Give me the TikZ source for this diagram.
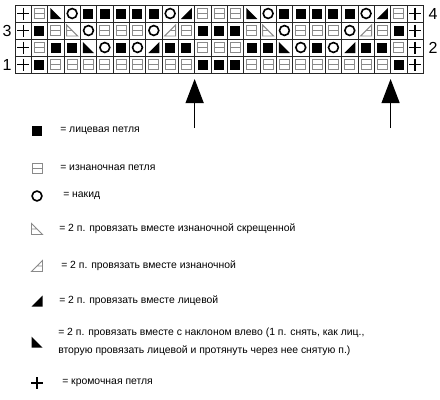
\documentclass[tikz,border=0pt]{standalone}
\usepackage{fontspec}
\setmainfont{Liberation Sans}
\usetikzlibrary{arrows.meta,calc}
\definecolor{purlc}{HTML}{8A8A8A}
\newcommand\stchP{\draw[line width=0.9pt] (-6,0)--(6,0) (0,-6)--(0,6);}
\newcommand\stchU{\draw[purlc,line width=0.7pt] (-5,-5) rectangle (5,5) (-5,0)--(5,0);}
\newcommand\stchK{\fill (-5,-5) rectangle (5,5);}
\newcommand\stchO{\draw[line width=1.2pt] (0,0) circle[radius=3.7pt];}
\newcommand\stchL{\fill (-5.5,-5.5)--(-5.5,5.5)--(5.5,5.5)--cycle;}
\newcommand\stchR{\fill (5.5,-5.5)--(5.5,5.5)--(-5.5,5.5)--cycle;}
\newcommand\stchA{\draw[purlc,line width=0.7pt] (-5.5,-5.5)--(-5.5,5.5)--(5.5,5.5)--cycle (-5.5,0)--(0,0);}
\newcommand\stchB{\draw[purlc,line width=0.7pt] (5.5,-5.5)--(5.5,5.5)--(-5.5,5.5)--cycle (0,0)--(5.5,0);}
\tikzset{
  cell/.style={draw=black!85,line width=0.6pt,minimum width=12.25pt,minimum height=12.75pt,inner sep=0pt,outer sep=0pt},
  rowlabel/.style={font=\fontsize{12}{12}\selectfont,inner sep=0pt},
  legtext/.style={font=\fontsize{7.8}{13.5}\selectfont,inner sep=0pt,anchor=west,align=left},
  bigarrow/.style={line width=0.9pt,-{Triangle[length=18pt,width=13.5pt]}}
}
\begin{document}
\begin{tikzpicture}[x=0.75pt,y=-0.75pt]
\useasboundingbox[fill=white] (0,0) rectangle (440,400);
% chart
\foreach \r/\codes in {
  4/{P,U,L,O,K,K,K,K,K,O,R,U,U,U,L,O,K,K,K,K,K,O,R,U,P},
  3/{P,K,U,A,O,U,U,U,O,B,U,K,K,K,U,A,O,U,U,U,O,B,U,K,P},
  2/{P,U,K,K,L,O,K,O,R,K,K,U,U,U,K,K,L,O,K,O,R,K,K,U,P},
  1/{P,K,U,U,U,U,U,U,U,U,U,K,K,K,U,U,U,U,U,U,U,U,U,K,P}}{
  \foreach \s [count=\c] in \codes {
    \node[cell] (r\r-\c) at ({15+(\c-0.5)*16.33},{5+(4.5-\r)*17}) {};
    \begin{scope}[shift={(r\r-\c)}]\csname stch\s\endcsname\end{scope}
  }
}
\node[rowlabel] (lab4) at (433,13.5) {4};
\node[rowlabel] (lab3) at (7,30.5) {3};
\node[rowlabel] (lab2) at (433,47.5) {2};
\node[rowlabel] (lab1) at (7,64.5) {1};
% arrows
\coordinate (tipL) at ($(r1-12.south west)+(0,6)$);
\coordinate (tailL) at ($(tipL)+(0,49)$);
\coordinate (tipR) at ($(r1-24.south west)+(0,6)$);
\coordinate (tailR) at ($(tipR)+(0,49)$);
\draw[bigarrow] (tailL) -- (tipL);
\draw[bigarrow] (tailR) -- (tipR);
% legend
\foreach \s/\y/\tx/\t [count=\i] in {
  K/131/60/{= лицевая петля},
  U/168/60/{= изнаночная петля},
  O/196/63/{= накид},
  A/229/59/{= 2 п. провязать вместе изнаночной скрещенной},
  B/266/61/{= 2 п. провязать вместе изнаночной},
  R/301/59/{= 2 п. провязать вместе лицевой},
  P/383/62/{= кромочная петля}}{
  \coordinate (legs\i) at (37,\y);
  \begin{scope}[shift={(legs\i)}]\csname stch\s\endcsname\end{scope}
  \node[legtext] (legt\i) at (\tx,\y) {\t};
}
\coordinate (legsL) at (37,342);
\begin{scope}[shift={(legsL)}]\stchL\end{scope}
\node[legtext] (legtL) at (58,342) {= 2 п. провязать вместе с наклоном влево (1 п. снять, как лиц.,\\вторую провязать лицевой и протянуть через нее снятую п.)};
\end{tikzpicture}
\end{document}
